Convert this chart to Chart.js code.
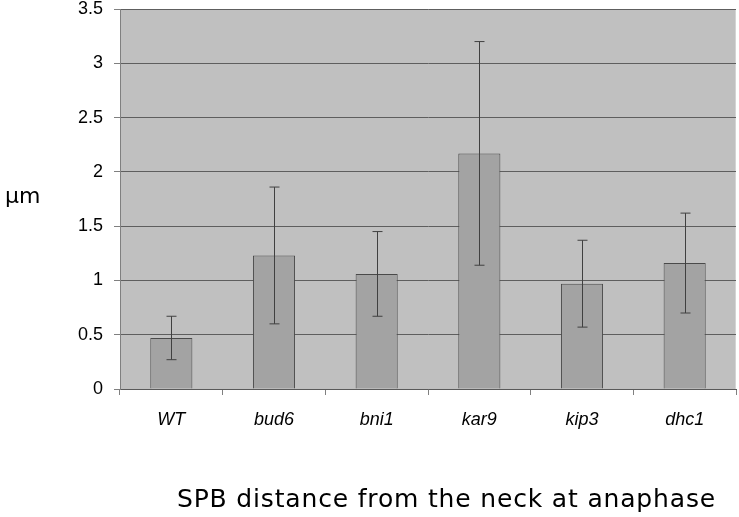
<!DOCTYPE html>
<html>
<head>
<meta charset="utf-8">
<script src="https://cdn.jsdelivr.net/npm/chart.js@4.4.1/dist/chart.umd.min.js"></script>
<style>
  html, body { margin: 0; padding: 0; background: #fff; }
  #wrap { width: 739px; height: 517px; position: relative; }
</style>
</head>
<body>
<div id="wrap"><canvas id="spb-chart" width="739" height="517"></canvas></div>
<script>
const strains = ['WT', 'bud6', 'bni1', 'kar9', 'kip3', 'dhc1'];
const meanDist = [0.47, 1.23, 1.06, 2.17, 0.97, 1.16];
const errDist = [0.20, 0.63, 0.39, 1.03, 0.40, 0.46];
const yTicks = [0, 0.5, 1, 1.5, 2, 2.5, 3, 3.5];
const xTitle = 'SPB distance from the neck at anaphase';
const yTitle = 'μm';

const plotBg = {
  id: 'plotBg',
  beforeDraw(chart) {
    const { ctx, chartArea: a } = chart;
    ctx.save();
    ctx.fillStyle = '#c0c0c0';
    ctx.fillRect(a.left, a.top, a.right - a.left, a.bottom - a.top);
    ctx.strokeStyle = '#d4d4d4';
    ctx.lineWidth = 1;
    ctx.beginPath();
    ctx.moveTo(a.right - 0.5, a.top);
    ctx.lineTo(a.right - 0.5, a.bottom);
    ctx.stroke();
    ctx.restore();
  }
};

const errorBars = {
  id: 'errorBars',
  afterDatasetsDraw(chart) {
    const { ctx } = chart;
    const y = chart.scales.y;
    const meta = chart.getDatasetMeta(0);
    ctx.save();
    ctx.strokeStyle = '#404040';
    ctx.lineWidth = 1;
    meta.data.forEach((bar, i) => {
      const x = Math.round(bar.x) + 0.5;
      const top = y.getPixelForValue(meanDist[i] + errDist[i]);
      const bot = y.getPixelForValue(meanDist[i] - errDist[i]);
      ctx.beginPath();
      ctx.moveTo(x, top); ctx.lineTo(x, bot);
      ctx.moveTo(x - 5, top); ctx.lineTo(x + 5, top);
      ctx.moveTo(x - 5, bot); ctx.lineTo(x + 5, bot);
      ctx.stroke();
    });
    ctx.restore();
  }
};

// axis titles: horizontal unit on the left, wide title under the x axis
const axisTitles = {
  id: 'axisTitles',
  afterDraw(chart) {
    const { ctx } = chart;
    ctx.save();
    ctx.fillStyle = '#000';
    ctx.textBaseline = 'alphabetic';
    ctx.textAlign = 'left';
    ctx.font = '22px "DejaVu Sans"';
    ctx.fillText(yTitle, 5, 203);

    ctx.font = '25px "DejaVu Sans"';
    const w = ctx.measureText(xTitle).width;
    const spacing = (538 - w) / (xTitle.length - 1);
    ctx.letterSpacing = spacing.toFixed(2) + 'px';
    ctx.fillText(xTitle, 177, 507);
    ctx.restore();
  }
};

new Chart(document.getElementById('spb-chart'), {
  type: 'bar',
  data: {
    labels: strains,
    datasets: [{
      data: meanDist,
      backgroundColor: '#a3a3a3',
      borderColor: '#4a4a4a',
      borderWidth: 1,
      barPercentage: 0.41,
      categoryPercentage: 1.0
    }]
  },
  options: {
    responsive: false,
    animation: false,
    layout: { padding: { top: 9, right: 3, left: 0, bottom: 0 } },
    plugins: { legend: { display: false }, tooltip: { enabled: false } },
    scales: {
      x: {
        afterFit(scale) { scale.height = 128; },
        grid: { drawOnChartArea: false, drawTicks: true, tickLength: 6, color: '#808080' },
        border: { color: '#5a5a5a' },
        ticks: {
          color: '#000',
          padding: 14,
          font: { family: '"Liberation Sans", Arial, sans-serif', size: 18, style: 'italic' }
        }
      },
      y: {
        min: 0,
        max: 3.5,
        afterFit(scale) {
          scale.width = 120;
          scale.paddingTop = 0;
          scale.paddingBottom = 0;
        },
        afterBuildTicks(scale) { scale.ticks = yTicks.map(v => ({ value: v })); },
        grid: { color: '#5e5e5e', tickLength: 6, tickColor: '#808080' },
        border: { color: '#808080' },
        ticks: {
          color: '#000',
          padding: 11,
          callback: v => String(v),
          font: { family: '"Liberation Sans", Arial, sans-serif', size: 18 }
        }
      }
    }
  },
  plugins: [plotBg, errorBars, axisTitles]
});
</script>
</body>
</html>
